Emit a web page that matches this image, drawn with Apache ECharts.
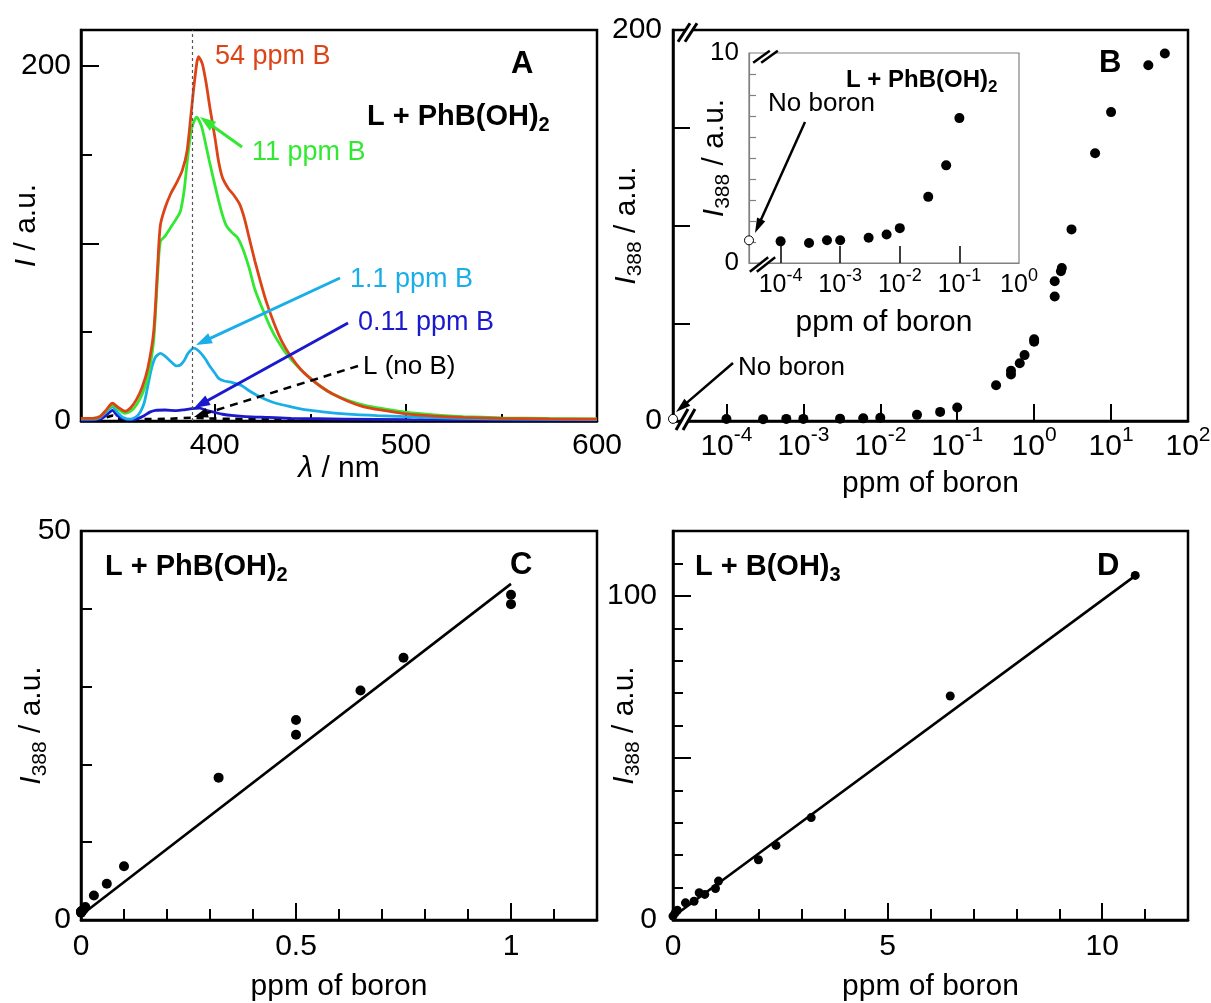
<!DOCTYPE html>
<html><head><meta charset="utf-8">
<script src="https://cdn.jsdelivr.net/npm/echarts@6/dist/echarts.min.js"></script>
<style>html,body{margin:0;padding:0;background:#fff}#c{width:1211px;height:1003px}</style>
</head><body><div id="c"></div>
<script>
// ---------------- DATA ----------------
// Panel A: emission spectra [wavelength nm, intensity a.u.]
const spec54 = [[330,1.5],[336,1.5],[340,2.5],[343,6],[346.5,10],[349,8],[353,5.5],[356,7.5],[359,12],[362,19],[365,30],[368,50],[370,85],[371.5,110],[374,120],[377,128],[380,134],[383,141],[385.5,152],[387.5,172],[389.5,192],[391.5,205],[393.5,201],[395.5,190],[397.5,176],[400,160],[402,146],[404,137],[407,131],[410,127],[413,122],[415.5,114],[418,103],[421,90],[424,78],[427,67],[431,55],[435,45],[440,36],[445,29],[450,24],[456,19],[462,15],[470,11],[478,8],[488,6],[500,4],[515,2.8],[530,2],[550,1.5],[575,1.2],[600,1]];
const spec11 = [[330,1.5],[336,1.5],[340,2.5],[343,5.5],[346.5,9],[349,7],[353,4.3],[356,5.5],[359,9],[362,15],[365,25],[368,45],[370,80],[371.5,101],[374,104],[377,109],[380,114],[382,118],[384,130],[386,150],[388,165],[390.5,171],[393,166],[395,157],[397,147],[400,133],[402,124],[404,116],[406,110],[409,106],[412,103],[415,96],[418,86],[421,74],[425,63],[429,53],[433,45],[438,37],[444,30],[450,24],[456,19],[462,15],[470,11.5],[478,9],[488,7],[500,5],[515,3.5],[530,2.5],[550,1.8],[575,1.4],[600,1.2]];
const spec1p1 = [[330,1],[336,1],[340,2],[343,5],[346.5,8],[349,5],[352,2],[356,1],[360,3.5],[363,10],[365,20],[367,30],[369,36],[371.5,38],[374,36.5],[377,33.5],[380,31],[382,31.5],[384,34],[386,38],[389,41],[392,39],[395,35],[397,31.5],[400,27],[402,24],[405,22.5],[408,22],[411,21],[414,20],[418,17],[422,14.5],[427,12],[432,10],[440,8],[448,6.2],[458,5],[468,4],[485,3],[500,2.5],[528,1.5],[560,1],[600,0.8]];
const spec0p11 = [[330,0.5],[340,1],[343,3],[346.5,6],[349,3],[353,1],[357,0.8],[360,1.5],[363,3],[366,5],[369,6],[374,6.2],[380,5.8],[384,6.3],[388,7],[392,7.2],[396,5.8],[400,4.8],[404,3.8],[410,3],[416,2.5],[428,2],[440,1.5],[468,1.1],[500,0.8],[600,0.5]];
const specL = [[330,0.5],[340,0.8],[346.5,3],[352,0.8],[360,1],[375,1.2],[388,1.8],[395,1.5],[410,1.2],[430,1],[460,0.7],[500,0.5],[600,0.3]];
const peakLine = 388;

// Panels B, C, inset: L + PhB(OH)2
const phbPpm = [0.0001,0.0003,0.0006,0.001,0.003,0.006,0.01,0.03,0.06,0.1,0.32,0.5,0.5,0.65,0.75,1.0,1.0,1.85,1.85,2.23,2.29,3.06,6.2,10.0,30.5,50];
const phbI   = [1.03,0.95,1.08,1.08,1.2,1.36,1.66,3.15,4.65,6.9,18.3,25.7,23.8,29.5,33.7,41.8,40.6,63.7,71.5,76.6,78.2,98,137,158,182,188];
const phbNoBoron = 1.08;
const fitC = [[0,0.6],[1,43.2]];

// Panel D: L + B(OH)3
const bohPpm = [0,0.05,0.1,0.29,0.49,0.61,0.74,0.99,1.06,1.99,2.40,3.22,6.46,10.77];
const bohI   = [1.2,2.2,3.0,5.3,5.8,8.4,7.9,9.7,12.0,18.6,23.0,31.6,69.1,106.3];
const fitD = [[0,1.0],[10.75,106]];

// tick / label values
const aTicksMajor = [400,500], aTicksMinor = [350,450,550], aLabels = [400,500,600];
const aYMajor = [100,200], aYMinor = [50,150], aYLabels = [0,200];
const bXTicks = [1e-4,1e-3,1e-2,1e-1,1,10], bXLabels = [1e-4,1e-3,1e-2,1e-1,1,10,100];
const bYTicks = [50,100,150], bYLabels = [0,200];
const inXTicks = [1e-4,1e-3,1e-2,1e-1], inXLabels = [1e-4,1e-3,1e-2,1e-1,1];
const inYTicks = [1,2,3,4,5,6,7,8,9], inYLabels = [0,10];
const cXMajor = [0.5,1], cXMinor = [0.1,0.2,0.3,0.4,0.6,0.7,0.8,0.9,1.1], cXLabels = [0,0.5,1];
const cYTicks = [10,20,30,40], cYLabels = [0,50];
const dXMajor = [5,10], dXMinor = [1,2,3,4,6,7,8,9,11], dXLabels = [0,5,10];
const dYMajor = [50,100], dYMinor = [10,20,30,40,60,70,80,90,110], dYLabels = [0,100];

// ---------------- CHART ----------------
const FONT = "'Liberation Sans', Arial, Helvetica, sans-serif";
const RED='#dc4418', GREEN='#33e833', LBLUE='#1aaee8', DBLUE='#1a1acc';
const B_XMIN = 2.02e-5, IN_XMIN = 2.95e-5;

function isObj(o){return o && typeof o==='object' && !Array.isArray(o);}
function merge(a,b){const r=Object.assign({},a);for(const k in b){r[k]=(isObj(a[k])&&isObj(b[k]))?merge(a[k],b[k]):b[k];}return r;}
const base = {
  type:'value', splitLine:{show:false}, nameMoveOverlap:false,
  axisLine:{show:true,onZero:false,lineStyle:{color:'#000',width:2.5}},
  axisTick:{show:true,inside:true,length:17,lineStyle:{color:'#000',width:2}},
  axisLabel:{show:true,color:'#000',fontSize:30,fontFamily:FONT},
  nameLocation:'middle',
  nameTextStyle:{color:'#000',fontSize:30,fontFamily:FONT}
};
const minor = {
  type:'value', splitLine:{show:false}, axisLine:{show:false},
  axisTick:{show:true,inside:true,length:9,lineStyle:{color:'#000',width:2}},
  axisLabel:{show:false}
};
const ax = o => merge(base,o);
const mi = o => merge(minor,o);
const supFmt = v => '{b|10}{s|' + Math.round(Math.log10(v)) + '}';
const iName = '{i|I}{s|388}{n| / a.u.}';
const iRich = {i:{fontStyle:'italic',fontSize:30,fontFamily:FONT,color:'#000'}, s:{fontSize:21,fontFamily:FONT,color:'#000',padding:[18,0,0,0]}, n:{fontSize:30,fontFamily:FONT,color:'#000'}};

const xAxis = [
  ax({gridIndex:0,position:'bottom',min:330,max:600,axisTick:{customValues:aTicksMajor},axisLabel:{customValues:aLabels,margin:10},
      name:'{l|λ}{n| / nm}',nameGap:33,nameTextStyle:{rich:{l:{fontStyle:'italic',fontSize:30,fontFamily:FONT,color:'#000'},n:{fontSize:30,fontFamily:FONT,color:'#000'}}}}),
  mi({gridIndex:0,position:'bottom',min:330,max:600,axisTick:{customValues:aTicksMinor,length:7}}),
  ax({type:'log',logBase:10,gridIndex:1,position:'bottom',min:B_XMIN,max:100,axisTick:{customValues:bXTicks},
      axisLabel:{customValues:bXLabels,formatter:supFmt,margin:4,rich:{b:{fontSize:30,fontFamily:FONT,color:'#000'},s:{fontSize:21,fontFamily:FONT,color:'#000',padding:[0,0,22,0]}}},
      name:'ppm of boron',nameGap:48}),
  ax({type:'log',logBase:10,gridIndex:2,position:'bottom',min:IN_XMIN,max:1,z:5,
      axisLine:{lineStyle:{color:'#808080',width:1.2}},axisTick:{customValues:inXTicks,length:17,lineStyle:{width:1.5}},
      axisLabel:{customValues:inXLabels,formatter:supFmt,margin:4,rich:{b:{fontSize:25,fontFamily:FONT,color:'#000'},s:{fontSize:18,fontFamily:FONT,color:'#000',padding:[0,0,18,0]}}},
      name:'ppm of boron',nameGap:45}),
  ax({gridIndex:3,position:'bottom',min:0,max:1.2,axisTick:{customValues:cXMajor},axisLabel:{customValues:cXLabels,margin:12},name:'ppm of boron',nameGap:52}),
  mi({gridIndex:3,position:'bottom',min:0,max:1.2,axisTick:{customValues:cXMinor,length:11}}),
  ax({gridIndex:4,position:'bottom',min:0,max:12,axisTick:{customValues:dXMajor},axisLabel:{customValues:dXLabels,margin:12},name:'ppm of boron',nameGap:52}),
  mi({gridIndex:4,position:'bottom',min:0,max:12,axisTick:{customValues:dXMinor,length:11}})
];
const yAxis = [
  ax({gridIndex:0,position:'left',min:0,max:220,axisTick:{customValues:aYMajor,length:18},axisLabel:{customValues:aYLabels,margin:10},
      name:'{i|I}{n| / a.u.}',nameGap:39,nameTextStyle:{rich:iRich}}),
  mi({gridIndex:0,position:'left',min:0,max:220,axisTick:{customValues:aYMinor,length:11}}),
  ax({gridIndex:1,position:'left',min:0,max:200,axisTick:{customValues:bYTicks},axisLabel:{customValues:bYLabels,margin:11},
      name:iName,nameGap:27,nameTextStyle:{rich:iRich}}),
  ax({gridIndex:2,position:'left',min:0,max:10,z:5,axisLine:{lineStyle:{color:'#808080',width:1.2}},
      axisTick:{customValues:inYTicks,length:7,lineStyle:{color:'#808080',width:1.2}},axisLabel:{customValues:inYLabels,fontSize:26,margin:10},
      name:iName,nameGap:15,nameTextStyle:{rich:iRich}}),
  ax({gridIndex:3,position:'left',min:0,max:50,axisTick:{customValues:cYTicks,length:11},axisLabel:{customValues:cYLabels,margin:10},
      name:iName,nameGap:30,nameTextStyle:{rich:iRich}}),
  ax({gridIndex:4,position:'left',min:0,max:120,axisTick:{customValues:dYMajor,length:18},axisLabel:{customValues:dYLabels,margin:16},
      name:iName,nameGap:29,nameTextStyle:{rich:iRich}}),
  mi({gridIndex:4,position:'left',min:0,max:120,axisTick:{customValues:dYMinor,length:10}})
];

const gridStyle = {show:true,borderColor:'#000',borderWidth:2.5,containLabel:false,outerBoundsMode:'none'};
const grid = [
  Object.assign({left:81,top:30,width:516,height:391},gridStyle),
  Object.assign({left:673,top:30,width:515,height:391},gridStyle),
  Object.assign({left:749,top:53,width:270,height:210,z:4},gridStyle,{borderColor:'#808080',borderWidth:1.2,backgroundColor:'#fff'}),
  Object.assign({left:81,top:531,width:516,height:389},gridStyle),
  Object.assign({left:673,top:531,width:515,height:389},gridStyle)
];

const zip = (xs,ys) => xs.map((x,i)=>[x,ys[i]]);
const phbAll = zip(phbPpm,phbI);
const lineS = (data,color,extra) => merge({type:'line',xAxisIndex:0,yAxisIndex:0,data,showSymbol:false,smooth:0.25,
   lineStyle:{color,width:2.8},itemStyle:{color},silent:true},extra||{});
const dot = {type:'scatter',symbolSize:10,itemStyle:{color:'#000',opacity:1},silent:true};

const series = [
  lineS(specL,'#000',{lineStyle:{type:[7,6],width:2.6}}),
  lineS(spec0p11,DBLUE),
  lineS(spec1p1,LBLUE),
  lineS(spec11,GREEN),
  lineS(spec54,RED,{markLine:{silent:true,symbol:'none',label:{show:false},lineStyle:{type:[3,3],color:'#555',width:1.2},data:[{xAxis:peakLine}]}}),
  merge(dot,{xAxisIndex:2,yAxisIndex:2,data:phbAll}),
  merge(dot,{xAxisIndex:2,yAxisIndex:2,clip:false,symbolSize:9,itemStyle:{color:'#fff',borderColor:'#000',borderWidth:1},data:[[B_XMIN,phbNoBoron]]}),
  merge(dot,{xAxisIndex:3,yAxisIndex:3,z:6,data:phbAll.filter(p=>p[0]<=0.1)}),
  merge(dot,{xAxisIndex:3,yAxisIndex:3,z:6,clip:false,symbolSize:9,itemStyle:{color:'#fff',borderColor:'#000',borderWidth:1},data:[[IN_XMIN,phbNoBoron]]}),
  merge(dot,{xAxisIndex:4,yAxisIndex:4,data:[[0,phbNoBoron]].concat(phbAll.filter(p=>p[0]<=1))}),
  {type:'line',xAxisIndex:4,yAxisIndex:4,data:fitC,showSymbol:false,silent:true,lineStyle:{color:'#000',width:2.6}},
  merge(dot,{xAxisIndex:6,yAxisIndex:5,symbolSize:9,data:zip(bohPpm,bohI)}),
  {type:'line',xAxisIndex:6,yAxisIndex:5,data:fitD,showSymbol:false,silent:true,lineStyle:{color:'#000',width:2.6}}
];

// ---------- annotations ----------
function txt(x,y,text,size,color,bold,rich){
  return {type:'text',x,y,z:100,style:{text,fill:color||'#000',fontSize:size,fontFamily:FONT,fontWeight:bold?'bold':'normal',verticalAlign:'middle',align:'left',rich:rich||undefined}};
}
function chem(x,y,main,sub,size){
  const rich={t:{fontSize:size,fontWeight:'bold',fontFamily:FONT,fill:'#000'},s:{fontSize:Math.round(size*0.7),fontWeight:'bold',fontFamily:FONT,fill:'#000',padding:[Math.round(size*0.6),0,0,0]}};
  return txt(x,y,'{t|'+main+'}{s|'+sub+'}',size,'#000',true,rich);
}
function arrow(x1,y1,x2,y2,color,w,dashed,hl,hw){
  hl=hl||16; hw=hw||5.5;
  const a=Math.atan2(y2-y1,x2-x1), c=Math.cos(a), s=Math.sin(a);
  const bx=x2-hl*c, by=y2-hl*s;
  return [
    {type:'line',z:100,shape:{x1,y1,x2:bx+4*c,y2:by+4*s},style:{stroke:color,lineWidth:w,lineDash:dashed?[8,6]:null}},
    {type:'polygon',z:100,shape:{points:[[x2,y2],[bx-hw*s,by+hw*c],[bx+hw*s,by-hw*c]]},style:{fill:color}}
  ];
}
function brk(cx,cy,hx,hy,gap,w){
  const p1=[cx-gap/2-hx,cy+hy], p2=[cx-gap/2+hx,cy-hy], p3=[cx+gap/2+hx,cy-hy], p4=[cx+gap/2-hx,cy+hy];
  return [
    {type:'polygon',z:101,shape:{points:[p1,p2,p3,p4]},style:{fill:'#fff'}},
    {type:'line',z:102,shape:{x1:p1[0],y1:p1[1],x2:p2[0],y2:p2[1]},style:{stroke:'#000',lineWidth:w}},
    {type:'line',z:102,shape:{x1:p4[0],y1:p4[1],x2:p3[0],y2:p3[1]},style:{stroke:'#000',lineWidth:w}}
  ];
}
const graphic = [].concat(
  [txt(215,57,'54 ppm B',27,RED), txt(511,64,'A',31,'#000',true), chem(367,117,'L + PhB(OH)','2',29),
   txt(252,153,'11 ppm B',27,GREEN), txt(350,280,'1.1 ppm B',27,LBLUE), txt(358,323,'0.11 ppm B',27,DBLUE), txt(363,367,'L (no B)',26,'#000')],
  arrow(242,147,200,117,GREEN,3), arrow(340,278,196,345,LBLUE,3), arrow(348,323,194,408,DBLUE,3), arrow(358,366,194,417,'#000',2.5,true,14,5),
  [txt(1099,63,'B',31,'#000',true), txt(738,368,'No boron',26,'#000'), txt(768,104,'No boron',26,'#000'), chem(846,80,'L + PhB(OH)','2',24)],
  arrow(733,363,676,412,'#000',2.5,false,15,4.5), arrow(805,122,755,233,'#000',2.5,false,15,4.5),
  brk(685.5,419.5,6,10.5,7,3), brk(687.5,32.5,6,9.2,7,3), brk(765.5,56.7,8.3,6,8,2.5), brk(762.5,264.5,9.2,7.2,7,2.5),
  [chem(105,567,'L + PhB(OH)','2',29), txt(510,565,'C',31,'#000',true),
   chem(695,567,'L + B(OH)','3',29), txt(1097,566,'D',31,'#000',true)]
);

const chart = echarts.init(document.getElementById('c'),null,{renderer:'canvas'});
chart.setOption({animation:false,backgroundColor:'#fff',grid,xAxis,yAxis,series,graphic});
</script>
</body></html>
